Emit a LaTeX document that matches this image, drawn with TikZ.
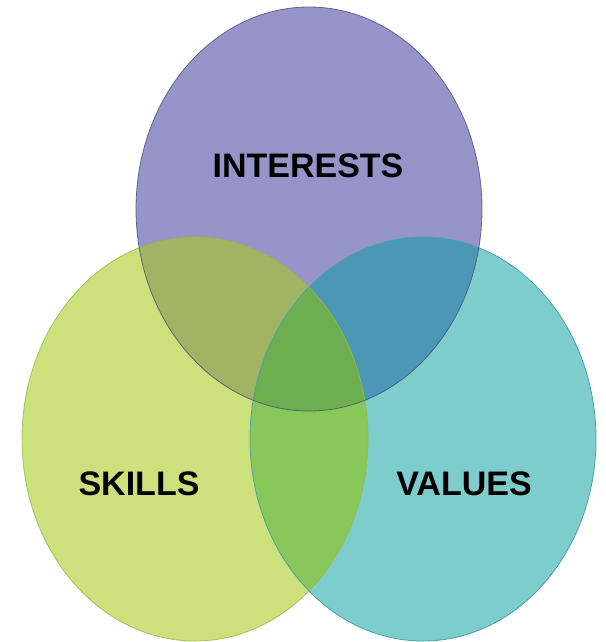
\documentclass[tikz,border=0pt]{standalone}
\usepackage{fontspec}
\setmainfont{Liberation Sans}
\definecolor{cTop}{HTML}{9794C9}
\definecolor{cLeft}{HTML}{CCE17C}
\definecolor{cRight}{HTML}{7ECDCD}
\definecolor{cTL}{HTML}{A0B464}
\definecolor{cTR}{HTML}{4A98B6}
\definecolor{cLR}{HTML}{88C85A}
\definecolor{cAll}{HTML}{6DAF50}
\definecolor{eTop}{HTML}{4E4E78}
\definecolor{eLeft}{HTML}{9AB54E}
\definecolor{eRight}{HTML}{4BA3A6}
\tikzset{
  lbl/.style={font=\fontsize{34}{40}\selectfont\bfseries, text=black, inner sep=0pt},
  rim/.style={line width=0.8pt}
}
\def\topE{(309,209) ellipse [x radius=173, y radius=202]}
\def\leftE{(195,439) ellipse [x radius=173, y radius=202]}
\def\rightE{(423,439) ellipse [x radius=173, y radius=202]}
\begin{document}
\begin{tikzpicture}[x=1pt,y=-1pt]
\useasboundingbox (0,0) rectangle (605,642);
\fill[white] (0,0) rectangle (605,642);
% base fills
\fill[cRight] \rightE;
\fill[cLeft] \leftE;
\fill[cTop] \topE;
% pairwise overlaps
\begin{scope}
  \clip \topE;
  \fill[cTL] \leftE;
  \fill[cTR] \rightE;
\end{scope}
\begin{scope}
  \clip \leftE;
  \fill[cLR] \rightE;
\end{scope}
\begin{scope}
  \clip \topE;
  \clip \leftE;
  \fill[cAll] \rightE;
\end{scope}
% outlines
\draw[rim, eRight] \rightE;
\draw[rim, eLeft, opacity=0.8] \leftE;
\draw[rim, eTop, opacity=0.8] \topE;
% labels
\node[lbl] (interests) at (308,166) {INTERESTS};
\node[lbl] (skills) at (139,484) {SKILLS};
\node[lbl] (values) at (464,484) {VALUES};
\end{tikzpicture}
\end{document}
